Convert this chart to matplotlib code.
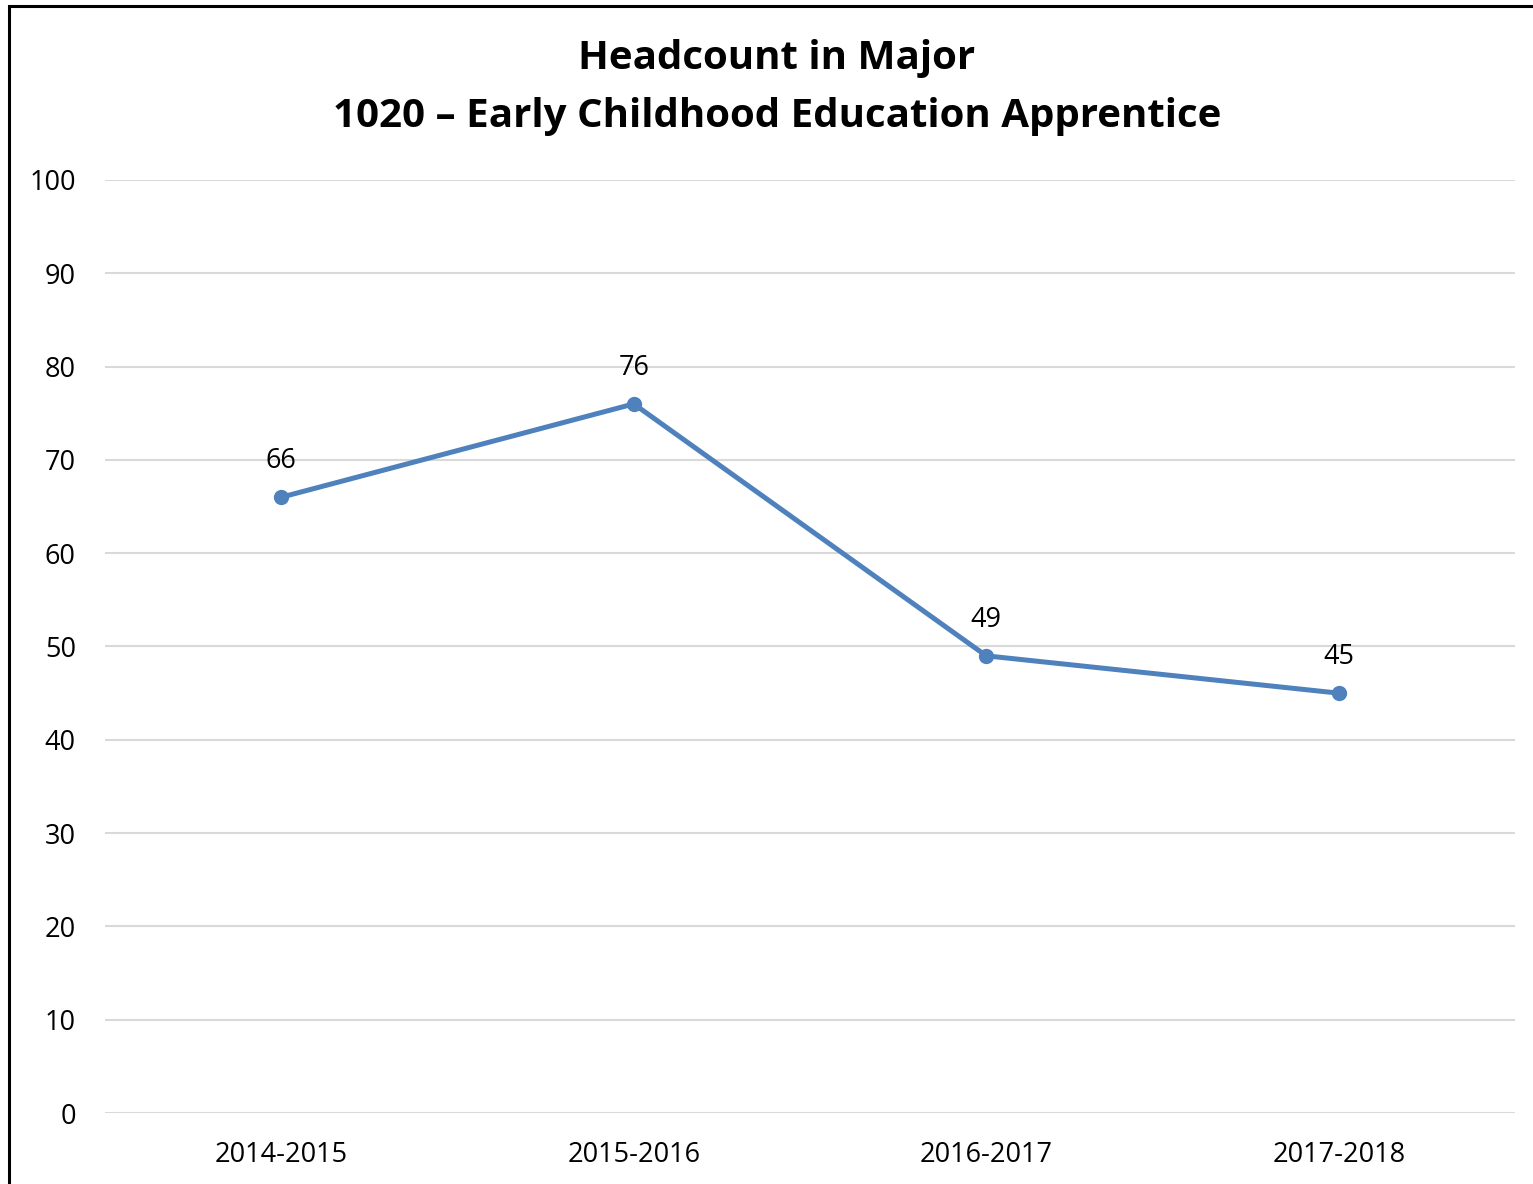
import matplotlib
matplotlib.use("Agg")
import matplotlib.pyplot as plt
from matplotlib.patches import Rectangle

# data
years = ["2014-2015", "2015-2016", "2016-2017", "2017-2018"]
headcount = [66, 76, 49, 45]
yticks = [0, 10, 20, 30, 40, 50, 60, 70, 80, 90, 100]

plt.rcParams['font.family'] = ['Open Sans', 'DejaVu Sans']

W, H = 1533, 1184
fig = plt.figure(figsize=(W / 100, H / 100), dpi=100)
ax = fig.add_axes([105 / W, 1 - 1113 / H, 1410 / W, 933 / H])

x = list(range(len(years)))
ax.plot(x, headcount, color="#4F81BD", lw=3.6, marker="o", markersize=10,
        solid_capstyle="round", zorder=3)

# data labels
for xi, v in zip(x, headcount):
    ax.annotate(str(v), (xi, v), xytext=(0, 26), textcoords="offset points",
                ha="center", va="center", fontsize=19.5, color="#000000")

ax.set_xlim(-0.5, len(years) - 0.5)
ax.set_ylim(0, 100)
ax.set_yticks(yticks)
ax.set_xticks(x)
ax.set_xticklabels(years)
ax.tick_params(axis="both", length=0, labelsize=19.5, colors="#000000")
ax.tick_params(axis="y", pad=21)
ax.tick_params(axis="x", pad=20)
ax.grid(axis="y", color="#D9D9D9", lw=1.5)
ax.set_axisbelow(True)
for s in ax.spines.values():
    s.set_visible(False)

fig.text(777 / W, 1 - 58 / H, "Headcount in Major", ha="center", va="center",
         fontsize=29, fontweight="bold")
fig.text(777 / W, 1 - 116 / H, "1020 \u2013 Early Childhood Education Apprentice",
         ha="center", va="center", fontsize=29, fontweight="bold")

# outer border (left and top only visible)
fig.patches.append(Rectangle((9 / W, -0.1), 1.2, 1 - 6 / H + 0.1,
                             transform=fig.transFigure, fill=False,
                             edgecolor="black", lw=2.2, zorder=10))

fig.savefig("out.png", dpi=100)
